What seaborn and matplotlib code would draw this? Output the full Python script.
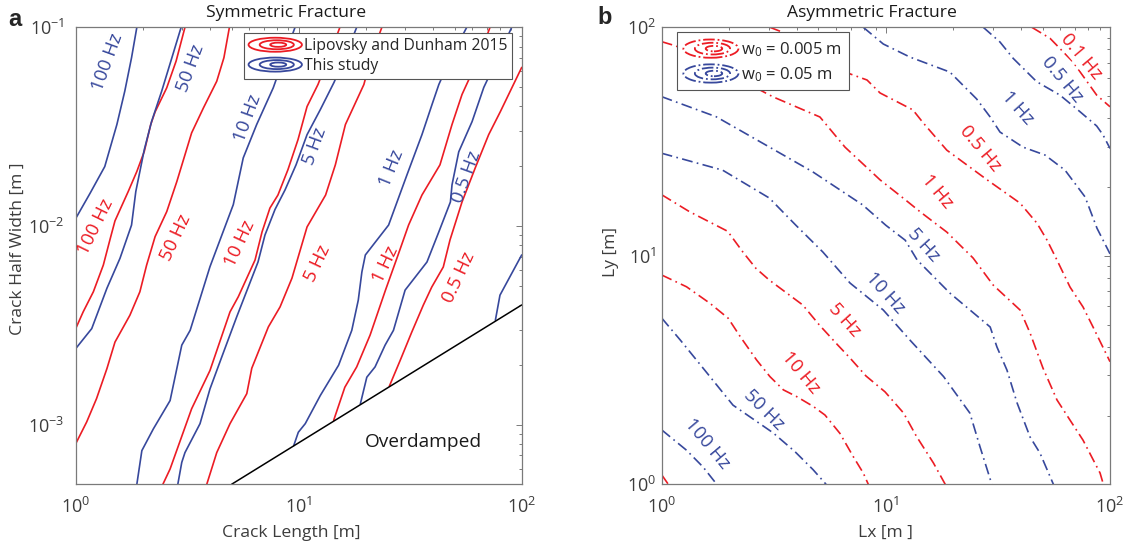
import numpy as np
import matplotlib
matplotlib.use("Agg")
import matplotlib.pyplot as plt
import seaborn as sns
from matplotlib.legend_handler import HandlerBase
from matplotlib.patches import Ellipse
from matplotlib.lines import Line2D
from matplotlib.ticker import LogLocator, LogFormatterSciNotation, NullFormatter

# ------------------------------------------------------------------
# Panel a : Symmetric fracture  (crack length [m] vs crack half width [m])
# Lipovsky and Dunham 2015 contours (red)
ld_100_x = [3.09, 2.82, 2.56, 2.27, 2.17, 2.03, 1.88, 1.72, 1.50, 1.43, 1.33, 1.20, 1.08, 1.0]
ld_100_y = [0.1, 0.0676, 0.0496, 0.0375, 0.0324, 0.0237, 0.0188, 0.0149, 0.0106, 0.00867, 0.00635, 0.00466, 0.00369, 0.00304]
ld_50_x = [4.89, 4.62, 4.29, 3.74, 3.31, 3.09, 2.84, 2.56, 2.27, 2.08, 1.94, 1.75, 1.50, 1.38, 1.24, 1.12, 1.0]
ld_50_y = [0.1, 0.0703, 0.0535, 0.0393, 0.0294, 0.0228, 0.0167, 0.0118, 0.00883, 0.00635, 0.00466, 0.00355, 0.0026, 0.00191, 0.00135, 0.00103, 0.0008]
ld_10_x = [15.3, 13.8, 12.2, 10.9, 9.93, 8.95, 8.07, 7.43, 6.85, 6.37, 5.36, 4.92, 4.0, 3.31, 2.65, 2.46]
ld_10_y = [0.1, 0.0731, 0.0515, 0.0399, 0.0272, 0.0192, 0.0143, 0.0123, 0.00933, 0.00673, 0.0044, 0.00369, 0.00187, 0.0012, 0.000597, 0.0005]
ld_5_x = [23.6, 21.3, 19.6, 16.2, 14.6, 13.2, 10.9, 10.1, 9.33, 8.25, 7.31, 6.16, 5.85, 4.92, 4.29, 3.87]
ld_5_y = [0.1, 0.0731, 0.0515, 0.0324, 0.0203, 0.0143, 0.00988, 0.00739, 0.00546, 0.00391, 0.0031, 0.00192, 0.00143, 0.00101, 0.000722, 0.0005]
ld_1_x = [72.1, 63.7, 54.0, 48.7, 43.0, 35.7, 31.1, 27.9, 24.5, 20.9, 18.2, 16.1, 14.35]
ld_1_y = [0.1, 0.0689, 0.0459, 0.0324, 0.0203, 0.0143, 0.0101, 0.00714, 0.00475, 0.00282, 0.00195, 0.00154, 0.00105]
ld_05_x = [100, 80.2, 71.1, 61.9, 54.0, 47.7, 44.5, 39.5, 36.2, 32.1, 28.5, 25.5]
ld_05_y = [0.0628, 0.0376, 0.0288, 0.0196, 0.0132, 0.0085, 0.00621, 0.00492, 0.00399, 0.00291, 0.0021, 0.00156]

# This study contours (blue)
ts_100_x = [1.88, 1.78, 1.66, 1.53, 1.35, 1.16, 1.0]
ts_100_y = [0.1, 0.0703, 0.0477, 0.0324, 0.0199, 0.0146, 0.0109]
ts_50_x = [2.97, 2.70, 2.43, 2.19, 2.03, 1.94, 1.86, 1.78, 1.58, 1.38, 1.18, 1.0]
ts_50_y = [0.1, 0.0703, 0.0477, 0.0336, 0.0242, 0.0188, 0.0149, 0.0101, 0.00687, 0.00485, 0.00304, 0.00241]
ts_10_x = [9.63, 8.69, 7.69, 6.48, 5.64, 5.09, 4.0, 3.26, 2.99, 2.65, 2.23, 1.98, 1.88]
ts_10_y = [0.1, 0.0731, 0.0496, 0.0324, 0.022, 0.0128, 0.00623, 0.00298, 0.00251, 0.00132, 0.000951, 0.000739, 0.0005]
ts_5_x = [18.2, 16.1, 14.4, 12.5, 10.9, 9.73, 8.69, 7.83, 7.06, 6.57, 5.27, 4.52, 4.0, 3.61, 3.09, 2.99, 2.87]
ts_5_y = [0.1, 0.0706, 0.0528, 0.0385, 0.0288, 0.0203, 0.0152, 0.0121, 0.009, 0.00658, 0.00348, 0.00219, 0.00151, 0.00101, 0.000722, 0.000645, 0.0005]
ts_1_x = [56.7, 47.7, 42.5, 39.6, 35.7, 30.6, 25.3, 19.9, 19.2, 18.5, 17.3, 15.1, 12.5, 10.7, 9.96, 9.50]
ts_1_y = [0.1, 0.0689, 0.0515, 0.0408, 0.0288, 0.0181, 0.0101, 0.00714, 0.00586, 0.00423, 0.00298, 0.00199, 0.0014, 0.00101, 0.000914, 0.000783]
ts_05_x = [90.2, 77.5, 67.6, 59.9, 52.2, 48.7, 47.9, 42.5, 37.6, 30.0, 26.6, 24.4, 22.0, 20.2, 18.9]
ts_05_y = [0.1, 0.0689, 0.0498, 0.0335, 0.0236, 0.0161, 0.0132, 0.00933, 0.00658, 0.00475, 0.00298, 0.00251, 0.00195, 0.00173, 0.00127]
ts_01_x = [100, 79.9, 76.2]
ts_01_y = [0.00714, 0.00448, 0.00335]

# Overdamped boundary
od_x = [5.0, 100.0]
od_y = [5e-4, 4e-3]

# ------------------------------------------------------------------
# Panel b : Asymmetric fracture  (Lx [m] vs Ly [m])
# w0 = 0.005 m (red)
r_01_x = [44.8, 54.0, 68.4, 87.2, 100]
r_01_y = [100, 89.5, 70.5, 50.5, 44.9]
r_05_x = [3.04, 3.44, 6.57, 8.24, 9.42, 13.2, 14.7, 18.7, 28.3, 39.7, 47.2, 52.4, 58.0, 66.3, 75.8, 84.0, 100]
r_05_y = [100, 95.4, 63.7, 58.8, 51.6, 43.5, 38.1, 29.0, 21.5, 17.0, 13.9, 11.7, 9.58, 7.30, 5.97, 4.88, 3.44]
r_1_x = [1.0, 1.16, 3.14, 5.08, 6.57, 9.42, 12.2, 14.2, 18.7, 24.5, 30.1, 39.7, 44.0, 50.2, 58.0, 66.3, 75.8, 90.3, 93.4]
r_1_y = [86.5, 82.8, 49.6, 40.5, 29.9, 21.5, 17.6, 15.6, 12.7, 9.78, 7.45, 5.79, 4.59, 3.23, 2.34, 1.91, 1.56, 1.12, 1.0]
r_5_x = [1.0, 1.33, 1.97, 2.30, 2.63, 3.02, 4.26, 5.05, 6.10, 6.92, 8.15, 9.91, 12.0, 13.7, 16.3, 18.4]
r_5_y = [18.5, 15.6, 12.8, 10.4, 8.82, 7.83, 6.09, 4.98, 4.07, 3.57, 2.98, 2.54, 2.05, 1.62, 1.24, 1.0]
r_10_x = [1.0, 1.29, 1.64, 1.98, 2.24, 2.65, 3.04, 3.49, 4.0, 4.75, 5.35, 6.24, 7.16, 7.93, 8.35]
r_10_y = [8.24, 7.32, 6.2, 5.33, 4.43, 3.5, 2.96, 2.59, 2.42, 2.19, 2.01, 1.67, 1.32, 1.12, 1.0]
r_50_x = [1.0, 1.07]
r_50_y = [1.1, 1.0]

# w0 = 0.05 m (blue)
b_05_x = [27.2, 32.3, 37.0, 47.1, 59.8, 73.5, 87.2, 93.1, 100]
b_05_y = [100, 86.2, 73.1, 57.8, 50.5, 42.7, 37.0, 33.8, 29.5]
b_1_x = [7.93, 9.74, 12.8, 19.3, 25.4, 29.2, 32.3, 40.9, 51.3, 63.0, 77.4, 87.5, 100]
b_1_y = [100, 84.5, 74.1, 63.7, 48.6, 40.5, 34.8, 29.9, 27.6, 23.7, 18.1, 13.2, 10.2]
b_5_x = [1.0, 1.75, 2.92, 4.72, 7.88, 10.0, 12.2, 13.8, 19.3, 29.2, 31.3, 34.7, 38.5, 44.0, 48.7, 55.9]
b_5_y = [49.7, 40.6, 30.5, 23.3, 16.7, 13.6, 11.7, 9.58, 6.87, 4.88, 3.99, 3.16, 2.27, 1.61, 1.37, 1.0]
b_10_x = [1.0, 1.87, 3.02, 3.97, 5.23, 6.92, 9.74, 12.8, 18.1, 23.7, 26.3, 29.7]
b_10_y = [28.1, 23.7, 17.9, 13.6, 10.4, 7.6, 5.79, 4.28, 2.96, 2.05, 1.46, 1.0]
b_50_x = [1.0, 1.21, 1.58, 2.08, 3.14, 3.93, 4.73, 5.41]
b_50_y = [5.34, 4.28, 3.1, 2.22, 1.68, 1.39, 1.16, 1.0]
b_100_x = [1.0, 1.29, 1.53, 1.76]
b_100_y = [1.73, 1.41, 1.19, 1.0]

legend_a_labels = ["Lipovsky and Dunham 2015", "This study"]
legend_b_labels = ["w$_0$ = 0.005 m", "w$_0$ = 0.05 m"]

# ------------------------------------------------------------------
RED = "#EC1C24"
BLUE = "#37489C"
GREY = "#7A7A7A"
TXT = "#3C3C3C"
DASHDOT = (0, (6.5, 2.6, 1.0, 2.6))
LABEL_FS = 13.5

sns.set_style("white")
plt.rcParams["font.family"] = ["Open Sans", "DejaVu Sans"]
plt.rcParams["mathtext.fontset"] = "custom"
plt.rcParams["mathtext.rm"] = "Open Sans"
plt.rcParams["mathtext.it"] = "Open Sans:italic"
plt.rcParams["mathtext.bf"] = "Open Sans:bold"
plt.rcParams["mathtext.default"] = "regular"


class HandlerEllipses(HandlerBase):
    def __init__(self, color, ls, hscale):
        super().__init__()
        self.color = color
        self.ls = ls
        self.hscale = hscale

    def create_artists(self, legend, orig_handle, xdescent, ydescent,
                       width, height, fontsize, trans):
        arts = []
        cx = width / 2 - xdescent
        cy = height / 2 - ydescent
        for f in (1.0, 0.64, 0.3):
            e = Ellipse((cx + (1 - f) * width * 0.08, cy), width * f,
                        height * self.hscale * f, fill=False,
                        edgecolor=self.color, lw=1.3, linestyle=self.ls,
                        transform=trans)
            arts.append(e)
        return arts


def draw(ax, xs, ys, color, ls="-", lw=1.2):
    sns.lineplot(x=xs, y=ys, ax=ax, color=color, linewidth=lw, linestyle=ls,
                 sort=False, estimator=None, legend=False)


def style_axes(ax, xlim, ylim, ypad):
    ax.set_xscale("log")
    ax.set_yscale("log")
    ax.set_xlim(*xlim)
    ax.set_ylim(*ylim)
    for a in (ax.xaxis, ax.yaxis):
        a.set_major_locator(LogLocator(base=10, numticks=10))
        a.set_minor_locator(LogLocator(base=10, subs=np.arange(2, 10), numticks=20))
        a.set_major_formatter(LogFormatterSciNotation())
        a.set_minor_formatter(NullFormatter())
    ax.tick_params(which="both", direction="in", top=True, right=True,
                   color=GREY, width=0.7, labelcolor=TXT, labelsize=13)
    ax.tick_params(which="major", length=4.5)
    ax.tick_params(which="minor", length=2.3)
    ax.tick_params(axis="x", pad=9)
    ax.tick_params(axis="y", pad=ypad)
    for s in ax.spines.values():
        s.set_color(GREY)
        s.set_linewidth(0.9)
    ax.set_xlabel("")
    ax.set_ylabel("")


fig = plt.figure(figsize=(11.27, 5.48), dpi=100)
ax1 = fig.add_axes([0.06717, 0.11624, 0.39574, 0.83394])
ax2 = fig.add_axes([0.58714, 0.11624, 0.39778, 0.83394])

# ---------------- panel a ----------------
style_axes(ax1, (1, 100), (5e-4, 0.1), 8)
for xs, ys in [(ld_100_x, ld_100_y), (ld_50_x, ld_50_y), (ld_10_x, ld_10_y),
               (ld_5_x, ld_5_y), (ld_1_x, ld_1_y), (ld_05_x, ld_05_y)]:
    draw(ax1, xs, ys, RED)
for xs, ys in [(ts_100_x, ts_100_y), (ts_50_x, ts_50_y), (ts_10_x, ts_10_y),
               (ts_5_x, ts_5_y), (ts_1_x, ts_1_y), (ts_05_x, ts_05_y),
               (ts_01_x, ts_01_y)]:
    draw(ax1, xs, ys, BLUE)
draw(ax1, od_x, od_y, "black", lw=1.1)
style_axes(ax1, (1, 100), (5e-4, 0.1), 8)

labels_a = [
    (1.396, 0.0669, "100 Hz", BLUE, 70), (3.28, 0.0621, "50 Hz", BLUE, 70),
    (5.88, 0.0347, "10 Hz", BLUE, 70), (11.87, 0.0251, "5 Hz", BLUE, 70),
    (26.2, 0.01956, "1 Hz", BLUE, 68), (56.3, 0.01774, "0.5 Hz", BLUE, 70),
    (1.229, 0.00985, "100 Hz", RED, 64), (2.81, 0.00877, "50 Hz", RED, 65),
    (5.46, 0.00818, "10 Hz", RED, 65), (12.17, 0.00648, "5 Hz", RED, 65),
    (24.6, 0.00643, "1 Hz", RED, 65), (52.5, 0.00551, "0.5 Hz", RED, 65),
]
for x, y, s, c, r in labels_a:
    ax1.text(x, y, s, color=c, rotation=r, rotation_mode="anchor",
             ha="center", va="center", fontsize=LABEL_FS)
ax1.text(36.2, 8.14e-4, "Overdamped", ha="center", va="center",
         fontsize=13.8, color="#1a1a1a")

ha1 = Line2D([], [], color=RED)
hb1 = Line2D([], [], color=BLUE)
leg1 = ax1.legend([ha1, hb1], legend_a_labels,
                  handler_map={ha1: HandlerEllipses(RED, "-", 1.0),
                               hb1: HandlerEllipses(BLUE, "-", 1.0)},
                  loc="upper left", bbox_to_anchor=(0.377, 0.9875),
                  borderaxespad=0, fontsize=11.3, handlelength=3.4,
                  handleheight=1.0, handletextpad=0.15, borderpad=0.3,
                  labelspacing=0.22, fancybox=False, framealpha=1,
                  edgecolor="#555555")
leg1.get_frame().set_linewidth(0.8)
leg1.set_zorder(10)

ax1.text(0.4715, 1.031, "Symmetric Fracture", transform=ax1.transAxes,
         ha="center", va="center", fontsize=12.6, color="#1a1a1a")
ax1.text(0.484, -0.1066, "Crack Length [m]", transform=ax1.transAxes,
         ha="center", va="center", fontsize=12.6, color=TXT)
ax1.text(-0.129, 0.515, "Crack Half Width [m ]", transform=ax1.transAxes,
         ha="center", va="center", fontsize=12.6, color=TXT, rotation=90)

# ---------------- panel b ----------------
style_axes(ax2, (1, 100), (1, 100), 4)
for xs, ys in [(r_01_x, r_01_y), (r_05_x, r_05_y), (r_1_x, r_1_y),
               (r_5_x, r_5_y), (r_10_x, r_10_y), (r_50_x, r_50_y)]:
    draw(ax2, xs, ys, RED, ls=DASHDOT, lw=1.2)
for xs, ys in [(b_05_x, b_05_y), (b_1_x, b_1_y), (b_5_x, b_5_y),
               (b_10_x, b_10_y), (b_50_x, b_50_y), (b_100_x, b_100_y)]:
    draw(ax2, xs, ys, BLUE, ls=DASHDOT, lw=1.2)
style_axes(ax2, (1, 100), (1, 100), 4)

labels_b = [
    (74.2, 74.9, "0.1 Hz", RED, -50), (26.3, 29.6, "0.5 Hz", RED, -50),
    (16.9, 19.2, "1 Hz", RED, -50), (6.51, 5.24, "5 Hz", RED, -48),
    (4.18, 3.07, "10 Hz", RED, -50),
    (61.1, 59.4, "0.5 Hz", BLUE, -50), (38.5, 44.4, "1 Hz", BLUE, -48),
    (14.8, 11.15, "5 Hz", BLUE, -48), (9.91, 6.87, "10 Hz", BLUE, -48),
    (2.86, 2.11, "50 Hz", BLUE, -45), (1.59, 1.5, "100 Hz", BLUE, -50),
]
for x, y, s, c, r in labels_b:
    t = ax2.text(x, y, s, color=c, rotation=r, rotation_mode="anchor",
                 ha="center", va="center", fontsize=LABEL_FS)
    if s == "0.1 Hz":
        t.set_bbox(dict(facecolor="white", edgecolor="none", pad=0.5))

ha2 = Line2D([], [], color=RED)
hb2 = Line2D([], [], color=BLUE)
leg2 = ax2.legend([ha2, hb2], legend_b_labels,
                  handler_map={ha2: HandlerEllipses(RED, "-.", 0.95),
                               hb2: HandlerEllipses(BLUE, "-.", 0.95)},
                  loc="upper left", bbox_to_anchor=(0.0335, 0.989),
                  borderaxespad=0, fontsize=12, handlelength=3.3,
                  handleheight=1.4, handletextpad=0.15, borderpad=0.4,
                  labelspacing=0.3, fancybox=False, framealpha=1,
                  edgecolor="#555555")
leg2.get_frame().set_linewidth(0.8)
leg2.set_zorder(10)

ax2.text(0.469, 1.031, "Asymmetric Fracture", transform=ax2.transAxes,
         ha="center", va="center", fontsize=12.6, color="#1a1a1a")
ax2.text(0.498, -0.1066, "Lx [m ]", transform=ax2.transAxes,
         ha="center", va="center", fontsize=12.6, color=TXT)
ax2.text(-0.113, 0.508, "Ly [m]", transform=ax2.transAxes,
         ha="center", va="center", fontsize=12.6, color=TXT, rotation=90)

fig.text(15 / 1127, 1 - 19 / 548, "a", fontsize=17, fontweight="bold",
         family=["Liberation Sans", "DejaVu Sans"], ha="center", va="center")
fig.text(605 / 1127, 1 - 18 / 548, "b", fontsize=17, fontweight="bold",
         family=["Liberation Sans", "DejaVu Sans"], ha="center", va="center")

fig.savefig("out.png", dpi=100)
